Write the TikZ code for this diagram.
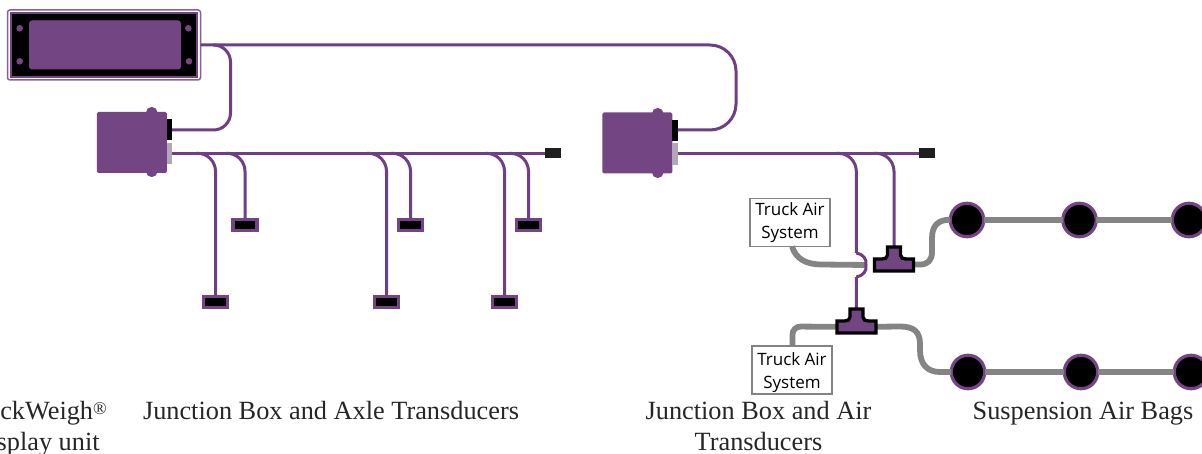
\documentclass[tikz,border=0pt]{standalone}
\usepackage{fontspec}
\setmainfont{Liberation Serif}
\newfontfamily\boxfont{Open Sans}
\definecolor{plum}{HTML}{744583}
\definecolor{wirec}{HTML}{6F3F85}
\definecolor{pipec}{HTML}{848484}
\definecolor{plug}{HTML}{B0A8B4}
\tikzset{
  blockat/.style={rectangle,inner sep=0pt,outer sep=0pt,anchor=north west},
  wire/.style={draw=wirec,line width=3pt},
  pipe/.style={draw=pipec,line width=5.8pt},
  sensor/.style={rectangle,inner sep=0pt,outer sep=0pt,draw=plum,line width=3.2pt,fill=black,minimum width=24pt,minimum height=11pt},
  endcap/.style={rectangle,inner sep=0pt,outer sep=0pt,fill=black!88,minimum width=16pt,minimum height=10pt},
  bag/.style={circle,inner sep=0pt,outer sep=0pt,draw=plum,line width=3.2pt,fill=black,minimum size=33.5pt},
  hole/.style={circle,inner sep=0pt,fill=plum,minimum size=6.6pt},
  airbox/.style={rectangle,draw=pipec,line width=1.4pt,fill=white,inner sep=0pt,outer sep=0pt,minimum width=80pt,minimum height=48pt,align=center,font=\boxfont\fontsize{17}{23.5}\selectfont},
  caption/.style={align=center,inner sep=0pt,text=black!85,font=\fontsize{26.3}{31}\selectfont},
  teeshape/.style={draw=black,line width=3.3pt,fill=plum,line join=miter}
}
\newcommand{\teeat}[2]{%
  \draw[teeshape] (#1-6.5,#2-18) -- (#1+6.5,#2-18) -- (#1+6.5,#2-10) .. controls (#1+6.5,#2-7) and (#1+9,#2-6) .. (#1+12,#2-6) -- (#1+19.5,#2-6) -- (#1+19.5,#2+6) -- (#1-19.5,#2+6) -- (#1-19.5,#2-6) -- (#1-12,#2-6) .. controls (#1-9,#2-6) and (#1-6.5,#2-7) .. (#1-6.5,#2-10) -- cycle;}
\begin{document}
\begin{tikzpicture}[x=1pt,y=-1pt]
\useasboundingbox (0,0) rectangle (1202,454);
% display unit
\node[blockat,draw=plum!85,line width=1.5pt,rounded corners=2.5pt,minimum width=193pt,minimum height=70pt,fill=white] (disp) at (7.5,10) {};
\node[blockat,fill=black,draw=plum,line width=1.1pt,minimum width=186pt,minimum height=64pt] (dispblack) at (11,13) {};
\node[blockat,fill=plum,rounded corners=3pt,minimum width=152pt,minimum height=49pt] (dispface) at (29,20.5) {};
\node[hole] (h1) at (19.7,28.3) {};
\node[hole] (h2) at (188.3,28.3) {};
\node[hole] (h3) at (19.7,61.3) {};
\node[hole] (h4) at (189,61.3) {};
% junction boxes
\node[blockat,fill=plum,rounded corners=5.5pt,minimum width=11.5pt,minimum height=70pt] (bumpa) at (146,107) {};
\node[blockat,fill=plum,rounded corners=1.5pt,minimum width=70pt,minimum height=61pt] (boxa) at (96.8,112) {};
\node[blockat,fill=black,minimum width=5.5pt,minimum height=21pt] (plugak) at (166.5,119) {};
\node[blockat,fill=plug,minimum width=5.5pt,minimum height=21pt] (plugag) at (166.5,143) {};
\node[blockat,fill=plum,rounded corners=5.5pt,minimum width=11.5pt,minimum height=70pt] (bumpb) at (652,108) {};
\node[blockat,fill=plum,rounded corners=1.5pt,minimum width=70pt,minimum height=61pt] (boxb) at (602.3,112.5) {};
\node[blockat,fill=black,minimum width=5.5pt,minimum height=21pt] (plugbk) at (672.3,120) {};
\node[blockat,fill=plug,minimum width=5.5pt,minimum height=22pt] (plugbg) at (672.3,143) {};
% end caps
\node[endcap] (enda) at (552.5,153.3) {};
\node[endcap] (endb) at (927,153.3) {};
% axle sensors
\node[sensor] (s1) at (215.5,302) {};
\node[sensor] (s2) at (245,225) {};
\node[sensor] (s3) at (386.5,302) {};
\node[sensor] (s4) at (410.5,225) {};
\node[sensor] (s5) at (504.5,302) {};
\node[sensor] (s6) at (528.5,225) {};
% air bags
\node[bag] (c1) at (967,220) {};
\node[bag] (c2) at (1079.5,220) {};
\node[bag] (c3) at (1189,220) {};
\node[bag] (d1) at (968,372) {};
\node[bag] (d2) at (1081,372) {};
\node[bag] (d3) at (1191,372) {};
% air boxes
\node[airbox] (airA) at (790,222.5) {Truck Air\\System};
\node[airbox] (airB) at (792,370) {\rule{0pt}{18pt}Truck Air\\System};
% junction coordinates
\coordinate (b1) at (196,153.3);
\coordinate (b2) at (226,153.3);
\coordinate (b3) at (367,153.3);
\coordinate (b4) at (391,153.3);
\coordinate (b5) at (485,153.3);
\coordinate (b6) at (509,153.3);
\coordinate (b7) at (836,153.3);
\coordinate (b8) at (873,153.3);
\coordinate (teeA) at (894,265);
\coordinate (teeB) at (856.5,327);
\coordinate (hopT) at (856.3,253);
\coordinate (hopB) at (856.3,277);
\coordinate (hopM) at (866,265);
% air pipes
\draw[pipe] (c1) -- (c2);
\draw[pipe] (c2) -- (c3);
\draw[pipe] (d1) -- (d2);
\draw[pipe] (d2) -- (d3);
\draw[pipe] (airA.south -| 792,247) .. controls (796,259) and (806,264.5) .. (822,264.5) -- (hopM);
\draw[pipe] (teeA) -- (920,264.5) .. controls (928,264.5) and (932,260) .. (932,252) -- (932,238) .. controls (932,226) and (938,219.5) .. (c1);
\draw[pipe,rounded corners=8pt] (airB.north -| 792.5,345) -- (792.5,326.5) -- (teeB);
\draw[pipe] (teeB) -- (900,326.5) .. controls (914,326.5) and (920,332) .. (920,344) -- (920,350) .. controls (920,364) and (927,372) .. (940,372) -- (d1);
% wires
\draw[wire,rounded corners=26pt] (disp.east |- 0,45) -- (736,45) -- (736,130) -- (plugbk.east |- 0,130);
\draw[wire,rounded corners=17pt] (213,45) -- (230.5,45) -- (230.5,130) -- (plugak.east |- 0,130);
\draw[wire] (plugag.east |- 0,153.3) -- (enda);
\draw[wire] (plugbg.east |- 0,153.3) -- (endb);
\draw[wire,rounded corners=18pt] (b1) -| (s1.north);
\draw[wire,rounded corners=18pt] (b2) -| (s2.north);
\draw[wire,rounded corners=18pt] (b3) -| (s3.north);
\draw[wire,rounded corners=18pt] (b4) -| (s4.north);
\draw[wire,rounded corners=18pt] (b5) -| (s5.north);
\draw[wire,rounded corners=18pt] (b6) -| (s6.north);
\draw[wire,rounded corners=18pt] (b7) -| (hopT);
\draw[wire] (hopT) .. controls (863,254) and (867,259) .. (hopM) .. controls (867,271) and (863,276) .. (hopB);
\draw[wire] (hopB) -- (teeB);
\draw[wire,rounded corners=18pt] (b8) -| (teeA);
% tees
\teeat{894}{265}
\teeat{856.5}{327}
% captions
\node[caption] (capA) at (35,429) {TruckWeigh\raisebox{0.2em}{\fontsize{18}{18}\selectfont\textregistered}\\Display unit};
\node[caption,anchor=base] (capB) at (331,419) {Junction Box and Axle Transducers};
\node[caption] (capC) at (758.5,426) {Junction Box and Air\\Transducers};
\node[caption,anchor=base] (capD) at (1083,419) {Suspension Air Bags};
\end{tikzpicture}
\end{document}
